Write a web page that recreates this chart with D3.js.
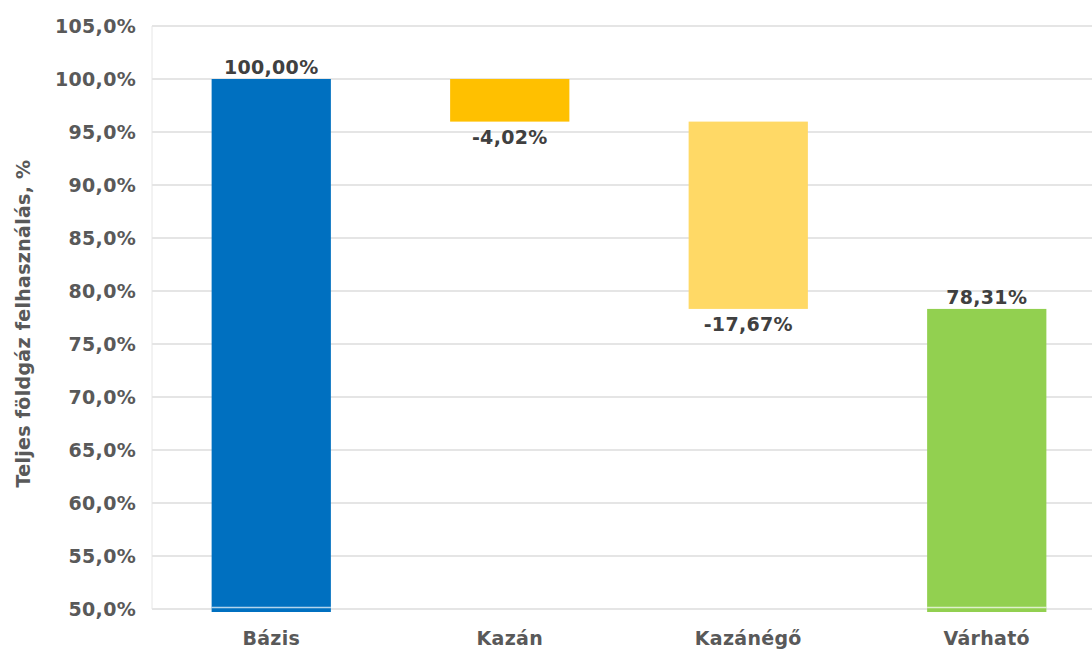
<!DOCTYPE html>
<html>
<head>
<meta charset="utf-8">
<script src="https://cdn.jsdelivr.net/npm/d3@7"></script>
<style>
  body { margin: 0; background: #fff; }
  text { font-family: "DejaVu Sans", sans-serif; }
</style>
</head>
<body>
<div id="chart-area"></div>
<script>
// data
const categories = ["Bázis", "Kazán", "Kazánégő", "Várható"];
const startValues = [50, 100, 95.98, 50];
const endValues   = [100, 95.98, 78.31, 78.31];
const labels      = ["100,00%", "-4,02%", "-17,67%", "78,31%"];
const colors      = ["#0070C0", "#FFC000", "#FFD966", "#92D050"];
const yTicks      = d3.range(50, 105.1, 5);

const margin = { left:152, right:-14, top:26, bottom:46 };
const width  = 1092 - margin.left - margin.right;
const height = 655 - margin.top - margin.bottom;

const svg = d3.select("#chart-area")
    .append("svg")
    .attr("width", 1092)
    .attr("height", 655);

const g = svg.append("g")
    .attr("transform", `translate(${margin.left}, ${margin.top})`);

/* Scales */
const x = d3.scaleBand()
    .domain(categories)
    .range([0, width])
    .paddingInner(0.5)
    .paddingOuter(0.25);

const y = d3.scaleLinear()
    .domain([50, 105])
    .range([height, 0]);

/* Gridlines */
g.selectAll(".grid")
    .data(yTicks)
    .enter().append("line")
    .attr("x1", 0)
    .attr("x2", width)
    .attr("y1", d => y(d))
    .attr("y2", d => y(d))
    .attr("stroke", "#dcdcdc")
    .attr("stroke-width", 1.3);

g.append("line")
    .attr("x1", 0).attr("x2", 0)
    .attr("y1", 0).attr("y2", height)
    .attr("stroke", "#e6e6e6");

const fontStyle = sel => sel
    .style("font-size", "19px")
    .style("font-weight", "bold")
    .style("letter-spacing", "0.3px");

/* Y axis */
const yAxis = g.append("g")
    .call(d3.axisLeft(y).tickValues(yTicks).tickSize(0).tickPadding(16)
        .tickFormat(d => d3.format(".1f")(d).replace(".", ",") + "%"));
yAxis.select(".domain").remove();
yAxis.selectAll("text")
    .attr("fill", "#595959")
    .call(fontStyle);

/* X axis */
const xAxis = g.append("g")
    .attr("transform", `translate(0,${height})`)
    .call(d3.axisBottom(x).tickSize(0).tickPadding(23));
xAxis.select(".domain").remove();
xAxis.selectAll("text")
    .attr("fill", "#595959")
    .call(fontStyle);

/* Axis title */
svg.append("text")
    .attr("transform", `translate(30, ${margin.top + height / 2 + 6}) rotate(-90)`)
    .attr("text-anchor", "middle")
    .attr("fill", "#595959")
    .call(fontStyle)
    .text("Teljes földgáz felhasználás, %");

/* Bars */
const bars = categories.map((c, i) => ({
    cat: c, s: startValues[i], e: endValues[i], label: labels[i], color: colors[i]
}));

g.selectAll(".bar")
    .data(bars)
    .enter().append("rect")
    .attr("x", d => x(d.cat))
    .attr("width", x.bandwidth())
    .attr("y", d => y(Math.max(d.s, d.e)))
    .attr("height", d => {
        const h = y(Math.min(d.s, d.e)) - y(Math.max(d.s, d.e));
        return Math.min(d.s, d.e) === 50 ? h + 3 : h;
    })
    .attr("fill", d => d.color);

// thin white line near the base of the full bars
g.selectAll(".baseline")
    .data(bars.filter(d => Math.min(d.s, d.e) === 50))
    .enter().append("line")
    .attr("x1", d => x(d.cat))
    .attr("x2", d => x(d.cat) + x.bandwidth())
    .attr("y1", y(50) - 1.5)
    .attr("y2", y(50) - 1.5)
    .attr("stroke", "#ffffff")
    .attr("stroke-opacity", 0.7)
    .attr("stroke-width", 1.3);

/* Value labels */
g.selectAll(".lbl")
    .data(bars)
    .enter().append("text")
    .attr("x", d => x(d.cat) + x.bandwidth() / 2)
    .attr("y", d => d.e < d.s ? y(d.e) + 22 : y(d.e) - 5)
    .attr("text-anchor", "middle")
    .attr("fill", "#404040")
    .call(fontStyle)
    .text(d => d.label);
</script>
</body>
</html>
